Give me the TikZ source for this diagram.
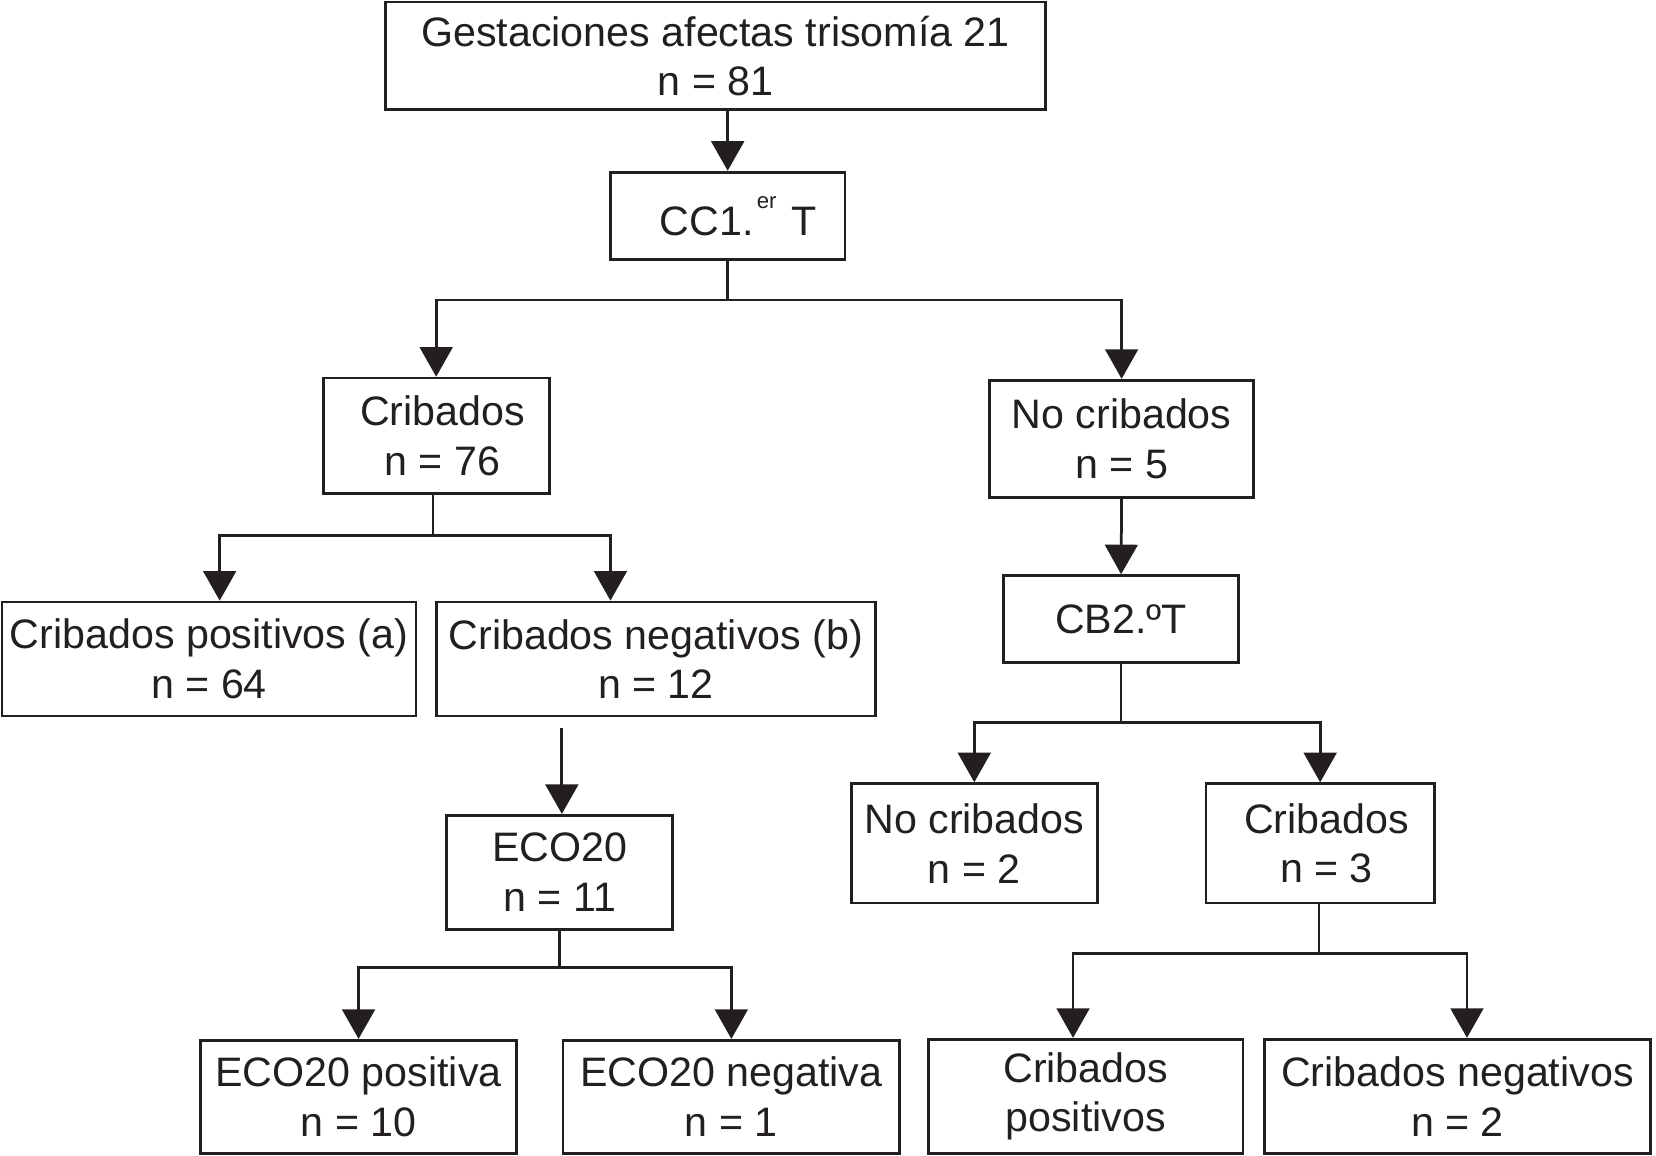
\documentclass[tikz,border=0pt]{standalone}
\usepackage{fontspec}
\setmainfont{Liberation Sans}
\usetikzlibrary{arrows.meta}
\definecolor{ink}{RGB}{35,31,32}
\begin{document}
\begin{tikzpicture}[x=1pt,y=-1pt,
 box/.style={draw=ink, line width=2.6pt, inner sep=0pt, align=center, text=ink, font=\fontsize{39}{47}\selectfont},
 conn/.style={draw=ink, line width=2.6pt},
 arr/.style={conn, -{Triangle[width=31pt,length=28pt]}}]
\useasboundingbox (0,0) rectangle (1568,1094);
\node[box, minimum width=625pt, minimum height=102pt] (top) at (677.5,53) {Gestaciones afectas trisomía 21\\n = 81};
\node[box, minimum width=222pt, minimum height=83pt] (cc1) at (689,204.5) {\hspace*{20pt}CC1.\kern3pt\raisebox{26pt}{\fontsize{21}{21}\selectfont er}\kern14pt T};
\node[box, minimum width=214pt, minimum height=109pt] (crib) at (413,412.5) {\hspace*{12pt}Cribados\\\hspace*{12pt}n = 76};
\node[box, minimum width=250pt, minimum height=111pt] (nocrib) at (1062,415.5) {No cribados\\n = 5};
\node[box, minimum width=392pt, minimum height=108pt] (cpos) at (198,624) {Cribados positivos (a)\\n = 64};
\node[box, minimum width=416pt, minimum height=108pt] (cneg) at (621,624) {Cribados negativos (b)\\n = 12};
\node[box, minimum width=214pt, minimum height=108pt] (eco) at (530,826) {ECO20\\n = 11};
\node[box, minimum width=299pt, minimum height=107pt] (ecop) at (339.5,1038.5) {ECO20 positiva\\n = 10};
\node[box, minimum width=319pt, minimum height=107pt] (econ) at (692.5,1038.5) {ECO20 negativa\\n = 1};
\node[box, minimum width=223pt, minimum height=82pt] (cb2) at (1061.5,586) {CB2.ºT};
\node[box, minimum width=233pt, minimum height=113pt] (nc2) at (922.5,798.5) {No cribados\\n = 2};
\node[box, minimum width=216pt, minimum height=113pt] (cr3) at (1250,798.5) {\hspace*{12pt}Cribados\\\hspace*{12pt}n = 3};
\node[box, minimum width=298pt, minimum height=108pt] (crp) at (1028,1038) {Cribados\\positivos};
\node[box, minimum width=366pt, minimum height=108pt] (crn) at (1380,1038) {Cribados negativos\\n = 2};
% connectors
\draw[arr] (top.south -| cc1.north) -- (cc1.north);
\coordinate (j1) at (689,284);
\draw[conn] (cc1.south) -- (j1);
\draw[arr] (j1) -| (crib.north);
\draw[arr] (j1) -| (nocrib.north);
\coordinate (j2) at (410,507);
\coordinate (j2l) at (208,507);
\coordinate (j2r) at (578,507);
\draw[conn] (crib.south -| j2) -- (j2);
\draw[arr] (j2) -- (j2l) -- (j2l |- cpos.north);
\draw[arr] (j2) -- (j2r) -- (j2r |- cneg.north);
\coordinate (g) at (532,689);
\draw[arr] (g) -- (g |- eco.north);
\coordinate (j3) at (530,916);
\draw[conn] (eco.south) -- (j3);
\draw[arr] (j3) -| (ecop.north);
\draw[arr] (j3) -| (econ.north);
\draw[arr] (nocrib.south) -- (cb2.north);
\coordinate (j4) at (1061.5,684);
\draw[conn] (cb2.south) -- (j4);
\draw[arr] (j4) -| (nc2.north);
\draw[arr] (j4) -| (cr3.north);
\coordinate (j5) at (1249,903);
\coordinate (j5l) at (1016,903);
\coordinate (j5r) at (1389,903);
\draw[conn] (cr3.south -| j5) -- (j5);
\draw[arr] (j5) -- (j5l) -- (j5l |- crp.north);
\draw[arr] (j5) -- (j5r) -- (j5r |- crn.north);
\end{tikzpicture}
\end{document}
